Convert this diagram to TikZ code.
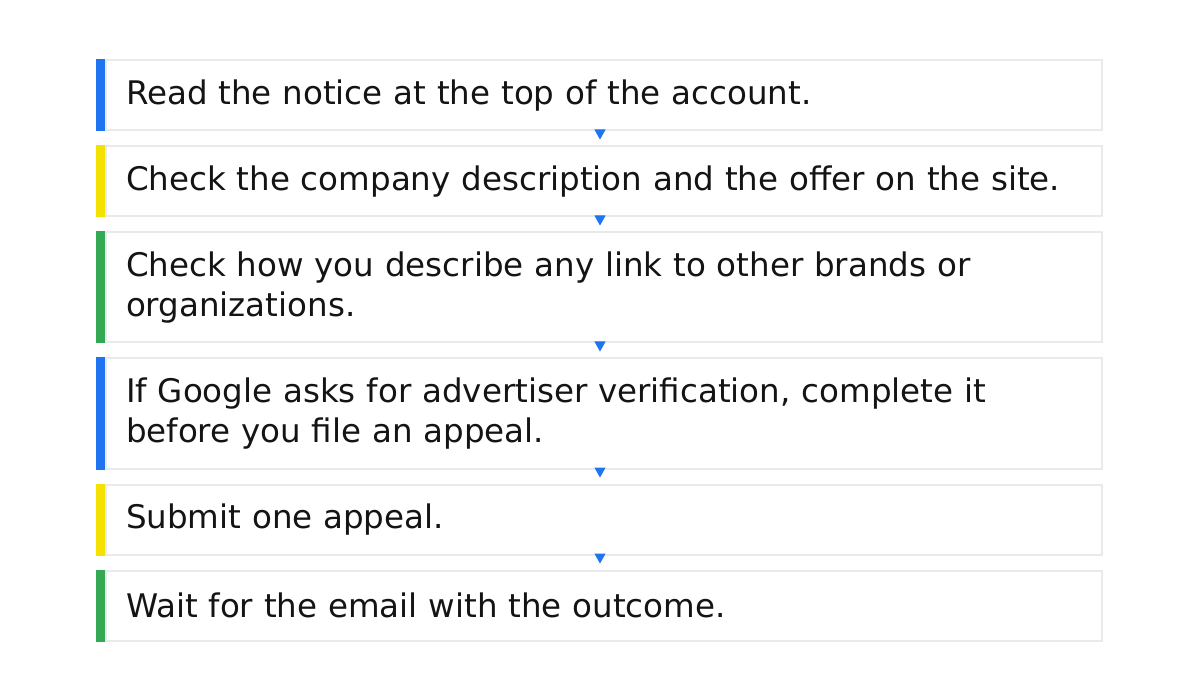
\documentclass[tikz,border=0pt]{standalone}
\usepackage{fontspec}
\setmainfont{DejaVu Sans}
\usetikzlibrary{arrows.meta}
\definecolor{gblue}{HTML}{1F75F0}
\definecolor{gyellow}{HTML}{F5E100}
\definecolor{ggreen}{HTML}{34A853}
\definecolor{gborder}{HTML}{E8EAED}
\definecolor{gtext}{HTML}{141414}
\begin{document}
\begin{tikzpicture}[x=0.5pt,y=-0.5pt,
  stepbox/.style={draw=gborder, line width=1pt, fill=white, minimum width=498pt,
    text width=478pt, inner xsep=10pt, inner ysep=0pt, align=left, text=gtext,
    font=\fontsize{16.25}{20}\selectfont},
  accent/.style={draw=none, minimum width=4.5pt, inner sep=0pt, anchor=east},
  arr/.style={draw=gblue, line width=0.5pt, shorten >=3pt, -{Triangle[length=5pt,width=5.5pt]}, gblue}
]
\useasboundingbox (0,0) rectangle (1200,700);
\fill[white] (0,0) rectangle (1200,700);
\node[stepbox, minimum height=35pt] (s1) at (604,95.5) {Read the notice at the top of the account.};
\node[stepbox, minimum height=35pt] (s2) at (604,181.5) {Check the company description and the offer on the site.};
\node[stepbox, minimum height=55pt] (s3) at (604,287.5) {Check how you describe any link to other brands or\\organizations.};
\node[stepbox, minimum height=55pt] (s4) at (604,413.5) {If Google asks for advertiser verification, complete it\\before you file an appeal.};
\node[stepbox, minimum height=35pt] (s5) at (604,519.5) {Submit one appeal.};
\node[stepbox, minimum height=35pt] (s6) at (604,605.5) {Wait for the email with the outcome.};
\node[accent, fill=gblue, minimum height=36pt] (b1) at (s1.west) {};
\node[accent, fill=gyellow, minimum height=36pt] (b2) at (s2.west) {};
\node[accent, fill=ggreen, minimum height=56pt] (b3) at (s3.west) {};
\node[accent, fill=gblue, minimum height=56pt] (b4) at (s4.west) {};
\node[accent, fill=gyellow, minimum height=36pt] (b5) at (s5.west) {};
\node[accent, fill=ggreen, minimum height=36pt] (b6) at (s6.west) {};
\draw[arr] ([xshift=-2pt]s1.south) -- ([xshift=-2pt]s2.north);
\draw[arr] ([xshift=-2pt]s2.south) -- ([xshift=-2pt]s3.north);
\draw[arr] ([xshift=-2pt]s3.south) -- ([xshift=-2pt]s4.north);
\draw[arr] ([xshift=-2pt]s4.south) -- ([xshift=-2pt]s5.north);
\draw[arr] ([xshift=-2pt]s5.south) -- ([xshift=-2pt]s6.north);
\end{tikzpicture}
\end{document}
